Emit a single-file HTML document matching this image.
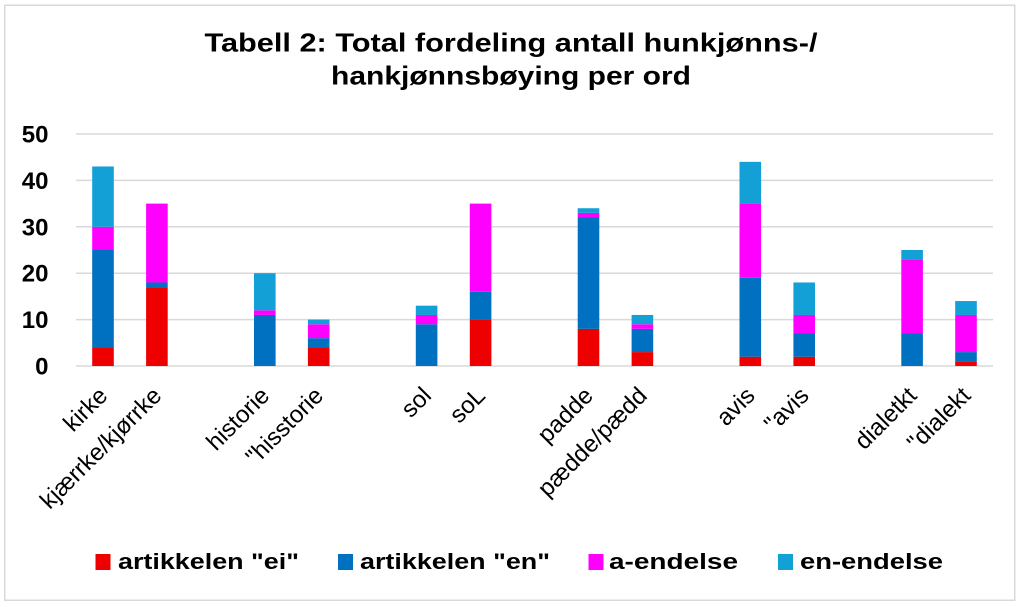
<!DOCTYPE html>
<html><head><meta charset="utf-8"><style>
html,body{margin:0;padding:0;background:#fff;}
svg{display:block;}
text{font-family:"Liberation Sans",Arial,sans-serif;fill:#000;}
</style></head><body>
<svg width="1023" height="607" viewBox="0 0 1023 607" xmlns="http://www.w3.org/2000/svg">
<rect x="0" y="0" width="1023" height="607" fill="#fff"/>
<rect x="4.75" y="5.25" width="1010" height="595" fill="#fff" stroke="#d9d9d9" stroke-width="1.5"/>

<!-- title -->
<text x="511" y="51.5" text-anchor="middle" font-size="26" font-weight="bold" textLength="613" lengthAdjust="spacingAndGlyphs">Tabell 2: Total fordeling antall hunkjønns-/</text>
<text x="511" y="84.5" text-anchor="middle" font-size="26" font-weight="bold" textLength="360" lengthAdjust="spacingAndGlyphs">hankjønnsbøying per ord</text>

<!-- gridlines -->
<g stroke="#d9d9d9" stroke-width="1.5">
<line x1="76" y1="134" x2="993" y2="134"/>
<line x1="76" y1="180.4" x2="993" y2="180.4"/>
<line x1="76" y1="226.8" x2="993" y2="226.8"/>
<line x1="76" y1="273.2" x2="993" y2="273.2"/>
<line x1="76" y1="319.6" x2="993" y2="319.6"/>
<line x1="76" y1="366" x2="993" y2="366"/>
</g>

<!-- y tick labels -->
<g font-size="24" font-weight="bold" text-anchor="end">
<text x="48.5" y="142.5">50</text>
<text x="48.5" y="188.9">40</text>
<text x="48.5" y="235.3">30</text>
<text x="48.5" y="281.7">20</text>
<text x="48.5" y="328.1">10</text>
<text x="48.5" y="374.5">0</text>
</g>

<!-- bars -->
<g>
<rect x="92.2" y="347.44" width="21.6" height="18.56" fill="#EE0000"/>
<rect x="92.2" y="250" width="21.6" height="97.44" fill="#0070C0"/>
<rect x="92.2" y="226.8" width="21.6" height="23.2" fill="#FF00FF"/>
<rect x="92.2" y="166.48" width="21.6" height="60.32" fill="#12A0D7"/>

<rect x="146.1" y="287.12" width="21.6" height="78.88" fill="#EE0000"/>
<rect x="146.1" y="282.48" width="21.6" height="4.64" fill="#0070C0"/>
<rect x="146.1" y="203.6" width="21.6" height="78.88" fill="#FF00FF"/>

<rect x="254" y="314.96" width="21.6" height="51.04" fill="#0070C0"/>
<rect x="254" y="310.32" width="21.6" height="4.64" fill="#FF00FF"/>
<rect x="254" y="273.2" width="21.6" height="37.12" fill="#12A0D7"/>

<rect x="307.9" y="347.44" width="21.6" height="18.56" fill="#EE0000"/>
<rect x="307.9" y="338.16" width="21.6" height="9.28" fill="#0070C0"/>
<rect x="307.9" y="324.24" width="21.6" height="13.92" fill="#FF00FF"/>
<rect x="307.9" y="319.6" width="21.6" height="4.64" fill="#12A0D7"/>

<rect x="415.8" y="324.24" width="21.6" height="41.76" fill="#0070C0"/>
<rect x="415.8" y="314.96" width="21.6" height="9.28" fill="#FF00FF"/>
<rect x="415.8" y="305.68" width="21.6" height="9.28" fill="#12A0D7"/>

<rect x="469.8" y="319.6" width="21.6" height="46.4" fill="#EE0000"/>
<rect x="469.8" y="291.76" width="21.6" height="27.84" fill="#0070C0"/>
<rect x="469.8" y="203.6" width="21.6" height="88.16" fill="#FF00FF"/>

<rect x="577.7" y="328.88" width="21.6" height="37.12" fill="#EE0000"/>
<rect x="577.7" y="217.52" width="21.6" height="111.36" fill="#0070C0"/>
<rect x="577.7" y="212.88" width="21.6" height="4.64" fill="#FF00FF"/>
<rect x="577.7" y="208.24" width="21.6" height="4.64" fill="#12A0D7"/>

<rect x="631.6" y="352.08" width="21.6" height="13.92" fill="#EE0000"/>
<rect x="631.6" y="328.88" width="21.6" height="23.2" fill="#0070C0"/>
<rect x="631.6" y="324.24" width="21.6" height="4.64" fill="#FF00FF"/>
<rect x="631.6" y="314.96" width="21.6" height="9.28" fill="#12A0D7"/>

<rect x="739.5" y="356.72" width="21.6" height="9.28" fill="#EE0000"/>
<rect x="739.5" y="277.84" width="21.6" height="78.88" fill="#0070C0"/>
<rect x="739.5" y="203.6" width="21.6" height="74.24" fill="#FF00FF"/>
<rect x="739.5" y="161.84" width="21.6" height="41.76" fill="#12A0D7"/>

<rect x="793.4" y="356.72" width="21.6" height="9.28" fill="#EE0000"/>
<rect x="793.4" y="333.52" width="21.6" height="23.2" fill="#0070C0"/>
<rect x="793.4" y="314.96" width="21.6" height="18.56" fill="#FF00FF"/>
<rect x="793.4" y="282.48" width="21.6" height="32.48" fill="#12A0D7"/>

<rect x="901.3" y="333.52" width="21.6" height="32.48" fill="#0070C0"/>
<rect x="901.3" y="259.28" width="21.6" height="74.24" fill="#FF00FF"/>
<rect x="901.3" y="250" width="21.6" height="9.28" fill="#12A0D7"/>

<rect x="955.2" y="361.36" width="21.6" height="4.64" fill="#EE0000"/>
<rect x="955.2" y="352.08" width="21.6" height="9.28" fill="#0070C0"/>
<rect x="955.2" y="314.96" width="21.6" height="37.12" fill="#FF00FF"/>
<rect x="955.2" y="301.04" width="21.6" height="13.92" fill="#12A0D7"/>
</g>

<!-- x labels -->
<g font-size="24" text-anchor="end">
<text transform="translate(109,397) rotate(-45)">kirke</text>
<text transform="translate(162.9,397) rotate(-45)">kjærrke/kjørrke</text>
<text transform="translate(270.8,397) rotate(-45)">historie</text>
<text transform="translate(324.7,397) rotate(-45)">"hisstorie</text>
<text transform="translate(432.6,397) rotate(-45)">sol</text>
<text transform="translate(486.6,397) rotate(-45)">soL</text>
<text transform="translate(594.5,397) rotate(-45)">padde</text>
<text transform="translate(648.4,397) rotate(-45)">pædde/pædd</text>
<text transform="translate(756.3,397) rotate(-45)">avis</text>
<text transform="translate(810.2,397) rotate(-45)">"avis</text>
<text transform="translate(918.1,397) rotate(-45)">dialetkt</text>
<text transform="translate(972,397) rotate(-45)">"dialekt</text>
</g>

<!-- legend -->
<rect x="95.5" y="554" width="15" height="16" fill="#EE0000"/>
<rect x="338" y="554" width="15" height="16" fill="#0070C0"/>
<rect x="588.5" y="554" width="15" height="16" fill="#FF00FF"/>
<rect x="778" y="554" width="15" height="16" fill="#12A0D7"/>
<g font-size="22" font-weight="bold">
<text x="118" y="569" textLength="181" lengthAdjust="spacingAndGlyphs">artikkelen "ei"</text>
<text x="360" y="569" textLength="190" lengthAdjust="spacingAndGlyphs">artikkelen "en"</text>
<text x="609" y="569" textLength="129" lengthAdjust="spacingAndGlyphs">a-endelse</text>
<text x="800" y="569" textLength="143" lengthAdjust="spacingAndGlyphs">en-endelse</text>
</g>
</svg>
</body></html>
